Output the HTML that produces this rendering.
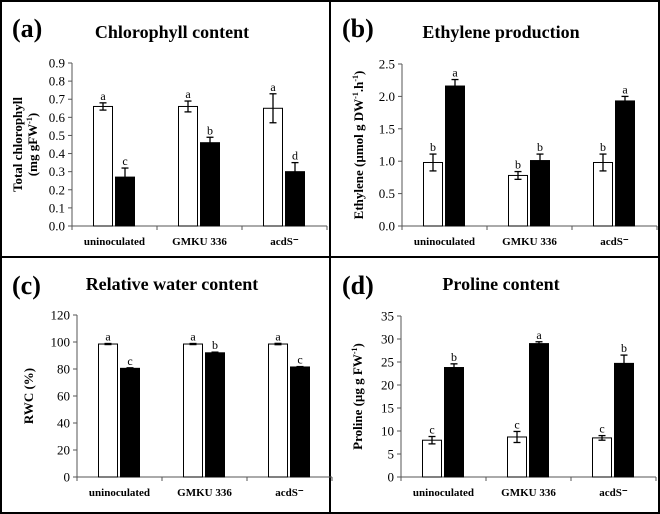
<!DOCTYPE html>
<html><head><meta charset="utf-8"><style>
html,body{margin:0;padding:0;background:#fff}
svg{display:block}
text{font-family:"Liberation Serif",serif;fill:#000}
</style></head><body>
<svg id="fig" width="660" height="514" viewBox="0 0 660 514">
<rect x="1" y="1" width="658" height="512" fill="none" stroke="#000" stroke-width="2"/>
<line x1="330" y1="0" x2="330" y2="514" stroke="#000" stroke-width="2"/>
<line x1="0" y1="257" x2="660" y2="257" stroke="#000" stroke-width="2"/>
</svg>
<script>
const categories = ["uninoculated","GMKU 336","acdS\u207B"];
const chlWhite = [0.66,0.66,0.65], chlWhiteErr=[0.02,0.03,0.08], chlBlack=[0.27,0.46,0.30], chlBlackErr=[0.05,0.03,0.05];
const chlLetters = ["a","c","a","b","a","d"];
const chlTicks = ["0.0","0.1","0.2","0.3","0.4","0.5","0.6","0.7","0.8","0.9"];
const ethWhite=[0.98,0.78,0.98], ethWhiteErr=[0.13,0.06,0.13], ethBlack=[2.16,1.01,1.93], ethBlackErr=[0.10,0.10,0.07];
const ethLetters=["b","a","b","b","b","a"];
const ethTicks=["0.0","0.5","1.0","1.5","2.0","2.5"];
const rwcWhite=[98.5,98.5,98.5], rwcWhiteErr=[0.4,0.4,0.5], rwcBlack=[80.5,92,81.5], rwcBlackErr=[0.4,0.5,0.3];
const rwcLetters=["a","c","a","b","a","c"];
const rwcTicks=["0","20","40","60","80","100","120"];
const proWhite=[8.0,8.7,8.5], proWhiteErr=[0.8,1.2,0.5], proBlack=[23.8,29.0,24.7], proBlackErr=[0.8,0.4,1.8];
const proLetters=["c","b","c","a","c","b"];
const proTicks=["0","5","10","15","20","25","30","35"];

const NS="http://www.w3.org/2000/svg";
const svg=document.getElementById('fig');
function mk(tag,attrs,parent){const e=document.createElementNS(NS,tag);for(const k in attrs)e.setAttribute(k,attrs[k]);(parent||svg).appendChild(e);return e;}
function panel(p){
  const g=mk('g',{});
  
  
  const yMax=parseFloat(p.ticks[p.ticks.length-1]);
  const y=v=>p.y0-(v/yMax)*(p.y0-p.yTop);
  const gw=85;
  const lt=mk('text',{x:p.ox+12,y:p.oy+37,'font-size':26,'font-weight':'bold'},g);lt.textContent=p.letter;
  
  
  const tt=mk('text',{x:p.ox+p.titleX,y:p.oy+p.titleY,'font-size':18,'font-weight':'bold','text-anchor':'middle'},g);tt.textContent=p.title;
  
  
  const yt=mk('text',{transform:`translate(${p.ox+p.ytX},${(p.y0+p.yTop)/2}) rotate(-90)`,'font-size':13,'font-weight':'bold','text-anchor':'middle'},g);
  
  
  p.ytitle.forEach((ln,i)=>{const ts=mk('tspan',{x:0,dy:i?15:(p.ytitle.length>1?-4:0)},yt);ts.innerHTML=ln;});
  mk('line',{x1:p.ax,y1:p.yTop,x2:p.ax,y2:p.y0,stroke:'#555','stroke-width':1},g);
  const xe=p.ax+3*gw;
  mk('line',{x1:p.ax,y1:p.y0,x2:xe,y2:p.y0,stroke:'#555','stroke-width':1},g);
  p.ticks.forEach(t=>{const v=parseFloat(t),yy=y(v);
    mk('line',{x1:p.ax-4,y1:yy,x2:p.ax,y2:yy,stroke:'#555'},g);
    const tx=mk('text',{x:p.ax-7,y:yy+4.5,'font-size':13,'text-anchor':'end'},g);tx.textContent=t;
    
    });
  for(let i=0;i<=3;i++){mk('line',{x1:p.ax+i*gw,y1:p.y0,x2:p.ax+i*gw,y2:p.y0+4,stroke:'#555'},g);}
  categories.forEach((c,i)=>{
    const cx=p.ax+i*gw+gw/2;
    const cl=mk('text',{x:cx,y:p.y0+19,'font-size':11,'font-weight':'bold','text-anchor':'middle'},g);cl.textContent=c;
    
    
    [[p.w,p.we,'#fff',-21],[p.b,p.be,'#000',1]].forEach((s,j)=>{
      const v=s[0][i],e=s[1][i],bx=cx+s[3];
      const r=mk('rect',{x:bx,y:y(v),width:19,height:p.y0-y(v),fill:s[2],stroke:'#000','stroke-width':1},g);
      
      
      const mx=bx+9.5;
      mk('line',{x1:mx,y1:y(v+e),x2:mx,y2:y(v-e),stroke:'#000','stroke-width':1.3},g);
      mk('line',{x1:mx-3.5,y1:y(v+e),x2:mx+3.5,y2:y(v+e),stroke:'#000','stroke-width':1.3},g);
      mk('line',{x1:mx-3.5,y1:y(v-e),x2:mx+3.5,y2:y(v-e),stroke:'#000','stroke-width':1.3},g);
      const lt2=mk('text',{x:mx,y:y(v+e)-3,'font-size':12,'text-anchor':'middle'},g);lt2.textContent=p.letters[i*2+j];
      
      
    });
  });
}
panel({name:'chlorophyll-panel',letter:'(a)',title:'Chlorophyll content',ox:0,oy:0,titleX:172,titleY:38,ytX:26,ax:72,yTop:63,y0:226,ticks:chlTicks,w:chlWhite,we:chlWhiteErr,b:chlBlack,be:chlBlackErr,letters:chlLetters,ytitle:['Total chlorophyll','(mg gFW<tspan font-size="8" dy="-5">-1</tspan><tspan dy="5">)</tspan>']});
panel({name:'ethylene-panel',letter:'(b)',title:'Ethylene production',ox:330,oy:0,titleX:171,titleY:38,ytX:33,ax:402,yTop:64,y0:226,ticks:ethTicks,w:ethWhite,we:ethWhiteErr,b:ethBlack,be:ethBlackErr,letters:ethLetters,ytitle:['Ethylene  (µmol g DW<tspan font-size="8" dy="-5">-1</tspan><tspan dy="5">.h</tspan><tspan font-size="8" dy="-5">-1</tspan><tspan dy="5">)</tspan>']});
panel({name:'rwc-panel',letter:'(c)',title:'Relative water content',ox:0,oy:257,titleX:172,titleY:33,ytX:33,ax:77,yTop:315,y0:477,ticks:rwcTicks,w:rwcWhite,we:rwcWhiteErr,b:rwcBlack,be:rwcBlackErr,letters:rwcLetters,ytitle:['RWC (%)']});
panel({name:'proline-panel',letter:'(d)',title:'Proline content',ox:330,oy:257,titleX:171,titleY:33,ytX:32,ax:401,yTop:316,y0:477,ticks:proTicks,w:proWhite,we:proWhiteErr,b:proBlack,be:proBlackErr,letters:proLetters,ytitle:['Proline (µg g FW<tspan font-size="8" dy="-5">-1</tspan><tspan dy="5">)</tspan>']});
</script>
</body></html>
